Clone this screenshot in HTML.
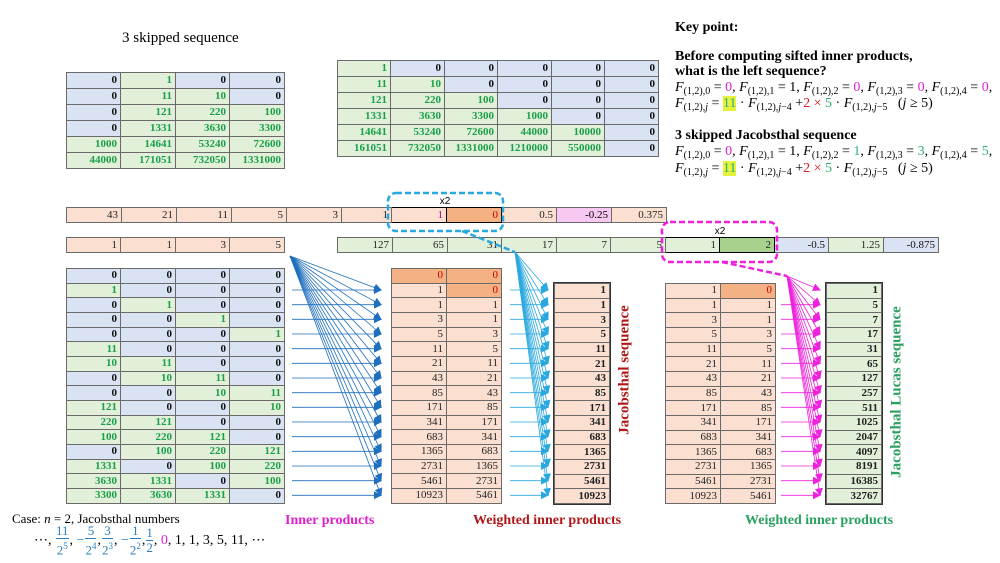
<!DOCTYPE html>
<html><head><meta charset="utf-8"><style>
body{margin:0;width:1000px;height:563px;background:#fff;position:relative;overflow:hidden;font-family:"Liberation Serif",serif;}
table{position:absolute;border-collapse:collapse;table-layout:fixed;font-family:"Liberation Serif",serif;}
td{border:1px solid #6a6a6a;padding:0 3px 0 0;text-align:right;overflow:hidden;white-space:nowrap;line-height:1;}
.t td{font-weight:bold;font-size:11px;}
.b{background:#dae3f3;color:#111}
.g{background:#e2f0d9;color:#1aa04a}
.o{background:#fbe0d2;color:#222}
.O{background:#f4b183;color:#c00000}
.p{background:#f6c8f2}
.G{background:#a9d18e}
.gg{background:#e2f0d9;color:#222}
.k{color:#b0008a}
.r{color:#c00000}
.lab{position:absolute;font-weight:bold;font-size:14px;white-space:nowrap}
.f{position:absolute;font-size:14px;white-space:nowrap;left:675px}
.f i{font-style:italic}
sub{font-size:10px;vertical-align:-3px}
.m{color:#e020d0}.gr{color:#30b070}.rd{color:#d02020}.hl{background:#e6f23c;color:#30b070}
.fr{display:inline-block;vertical-align:middle;text-align:center;color:#2a80c0;font-size:13px;line-height:14px;margin:0 1px}
.fr span{display:block}
.fr span:first-child{border-bottom:1px solid #2a80c0}
</style></head><body>

<div style="position:absolute;left:122px;top:30px;font-size:15px">3 skipped sequence</div>

<table class="t" style="left:66px;top:72px;width:218px;">
<colgroup><col width="54"><col width="55"><col width="54"><col width="55"></colgroup>
<tr style="height:16px"><td class="b">0</td><td class="g">1</td><td class="b">0</td><td class="b">0</td></tr>
<tr style="height:16px"><td class="b">0</td><td class="g">11</td><td class="g">10</td><td class="b">0</td></tr>
<tr style="height:16px"><td class="b">0</td><td class="g">121</td><td class="g">220</td><td class="g">100</td></tr>
<tr style="height:16px"><td class="b">0</td><td class="g">1331</td><td class="g">3630</td><td class="g">3300</td></tr>
<tr style="height:16px"><td class="g">1000</td><td class="g">14641</td><td class="g">53240</td><td class="g">72600</td></tr>
<tr style="height:16px"><td class="g">44000</td><td class="g">171051</td><td class="g">732050</td><td class="g">1331000</td></tr>
</table>

<table class="t" style="left:337px;top:60px;width:321px;">
<colgroup><col width="53"><col width="54"><col width="53"><col width="54"><col width="53"><col width="54"></colgroup>
<tr style="height:16px"><td class="g">1</td><td class="b">0</td><td class="b">0</td><td class="b">0</td><td class="b">0</td><td class="b">0</td></tr>
<tr style="height:16px"><td class="g">11</td><td class="g">10</td><td class="b">0</td><td class="b">0</td><td class="b">0</td><td class="b">0</td></tr>
<tr style="height:16px"><td class="g">121</td><td class="g">220</td><td class="g">100</td><td class="b">0</td><td class="b">0</td><td class="b">0</td></tr>
<tr style="height:16px"><td class="g">1331</td><td class="g">3630</td><td class="g">3300</td><td class="g">1000</td><td class="b">0</td><td class="b">0</td></tr>
<tr style="height:16px"><td class="g">14641</td><td class="g">53240</td><td class="g">72600</td><td class="g">44000</td><td class="g">10000</td><td class="b">0</td></tr>
<tr style="height:16px"><td class="g">161051</td><td class="g">732050</td><td class="g">1331000</td><td class="g">1210000</td><td class="g">550000</td><td class="b">0</td></tr>
</table>

<div class="f" style="top:20px;font-weight:bold">Key point:</div>
<div class="f" style="top:49px;font-weight:bold">Before computing sifted inner products,</div>
<div class="f" style="top:64px;font-weight:bold">what is the left sequence?</div>
<div class="f" style="top:80px"><i>F</i><sub>(1,2),0</sub> = <span class="m">0</span>, <i>F</i><sub>(1,2),1</sub> = 1, <i>F</i><sub>(1,2),2</sub> = <span class="m">0</span>, <i>F</i><sub>(1,2),3</sub> = <span class="m">0</span>, <i>F</i><sub>(1,2),4</sub> = <span class="m">0</span>,</div>
<div class="f" style="top:96px"><i>F</i><sub>(1,2),<i>j</i></sub> = <span class="hl">11</span> · <i>F</i><sub>(1,2),<i>j</i>−4</sub> +<span class="rd">2 × </span><span class="gr">5</span> · <i>F</i><sub>(1,2),<i>j</i>−5</sub> &nbsp;&nbsp;(<i>j</i> ≥ 5)</div>
<div class="f" style="top:128px;font-weight:bold">3 skipped Jacobsthal sequence</div>
<div class="f" style="top:144px"><i>F</i><sub>(1,2),0</sub> = <span class="m">0</span>, <i>F</i><sub>(1,2),1</sub> = 1, <i>F</i><sub>(1,2),2</sub> = <span class="gr">1</span>, <i>F</i><sub>(1,2),3</sub> = <span class="gr">3</span>, <i>F</i><sub>(1,2),4</sub> = <span class="gr">5</span>,</div>
<div class="f" style="top:161px"><i>F</i><sub>(1,2),<i>j</i></sub> = <span class="hl">11</span> · <i>F</i><sub>(1,2),<i>j</i>−4</sub> +<span class="rd">2 × </span><span class="gr">5</span> · <i>F</i><sub>(1,2),<i>j</i>−5</sub> &nbsp;&nbsp;(<i>j</i> ≥ 5)</div>

<table style="left:66px;top:207px;width:600px;font-size:11px">
<colgroup><col width="55"><col width="55"><col width="55"><col width="55"><col width="55"><col width="50"><col width="55"><col width="55"><col width="55"><col width="55"><col width="55"></colgroup>
<tr style="height:15px"><td class="o">43</td><td class="o">21</td><td class="o">11</td><td class="o">5</td><td class="o">3</td><td class="o">1</td><td class="o k" style="border:1.5px solid #000">1</td><td class="O" style="border:1.5px solid #000">0</td><td class="o">0.5</td><td class="p">-0.25</td><td class="o">0.375</td></tr>
</table>
<table style="left:66px;top:237px;width:218px;font-size:11px">
<colgroup><col width="54"><col width="55"><col width="54"><col width="55"></colgroup>
<tr style="height:15px"><td class="o">1</td><td class="o">1</td><td class="o">3</td><td class="o">5</td></tr>
</table>
<table style="left:337px;top:237px;width:601px;font-size:11px">
<colgroup><col width="55"><col width="55"><col width="54"><col width="55"><col width="54"><col width="55"><col width="54"><col width="55"><col width="54"><col width="55"><col width="55"></colgroup>
<tr style="height:15px"><td class="gg">127</td><td class="gg">65</td><td class="gg">31</td><td class="gg">17</td><td class="gg">7</td><td class="gg">5</td><td class="gg" style="border:1.5px solid #000">1</td><td class="G" style="border:1.5px solid #000;color:#222">2</td><td class="b">-0.5</td><td class="gg">1.25</td><td class="b">-0.875</td></tr>
</table>

<table class="t" style="left:66px;top:268px;width:218px;">
<colgroup><col width="54"><col width="55"><col width="54"><col width="55"></colgroup>
<tr style="height:14.67px"><td class="b">0</td><td class="b">0</td><td class="b">0</td><td class="b">0</td></tr>
<tr style="height:14.67px"><td class="g">1</td><td class="b">0</td><td class="b">0</td><td class="b">0</td></tr>
<tr style="height:14.67px"><td class="b">0</td><td class="g">1</td><td class="b">0</td><td class="b">0</td></tr>
<tr style="height:14.67px"><td class="b">0</td><td class="b">0</td><td class="g">1</td><td class="b">0</td></tr>
<tr style="height:14.67px"><td class="b">0</td><td class="b">0</td><td class="b">0</td><td class="g">1</td></tr>
<tr style="height:14.67px"><td class="g">11</td><td class="b">0</td><td class="b">0</td><td class="b">0</td></tr>
<tr style="height:14.67px"><td class="g">10</td><td class="g">11</td><td class="b">0</td><td class="b">0</td></tr>
<tr style="height:14.67px"><td class="b">0</td><td class="g">10</td><td class="g">11</td><td class="b">0</td></tr>
<tr style="height:14.67px"><td class="b">0</td><td class="b">0</td><td class="g">10</td><td class="g">11</td></tr>
<tr style="height:14.67px"><td class="g">121</td><td class="b">0</td><td class="b">0</td><td class="g">10</td></tr>
<tr style="height:14.67px"><td class="g">220</td><td class="g">121</td><td class="b">0</td><td class="b">0</td></tr>
<tr style="height:14.67px"><td class="g">100</td><td class="g">220</td><td class="g">121</td><td class="b">0</td></tr>
<tr style="height:14.67px"><td class="b">0</td><td class="g">100</td><td class="g">220</td><td class="g">121</td></tr>
<tr style="height:14.67px"><td class="g">1331</td><td class="b">0</td><td class="g">100</td><td class="g">220</td></tr>
<tr style="height:14.67px"><td class="g">3630</td><td class="g">1331</td><td class="b">0</td><td class="g">100</td></tr>
<tr style="height:14.67px"><td class="g">3300</td><td class="g">3630</td><td class="g">1331</td><td class="b">0</td></tr>
</table>

<table style="left:391px;top:268px;width:110px;font-size:11px">
<colgroup><col width="55"><col width="55"></colgroup>
<tr style="height:14.67px"><td class="O">0</td><td class="O">0</td></tr>
<tr style="height:14.67px"><td class="o">1</td><td class="O">0</td></tr>
<tr style="height:14.67px"><td class="o">1</td><td class="o">1</td></tr>
<tr style="height:14.67px"><td class="o">3</td><td class="o">1</td></tr>
<tr style="height:14.67px"><td class="o">5</td><td class="o">3</td></tr>
<tr style="height:14.67px"><td class="o">11</td><td class="o">5</td></tr>
<tr style="height:14.67px"><td class="o">21</td><td class="o">11</td></tr>
<tr style="height:14.67px"><td class="o">43</td><td class="o">21</td></tr>
<tr style="height:14.67px"><td class="o">85</td><td class="o">43</td></tr>
<tr style="height:14.67px"><td class="o">171</td><td class="o">85</td></tr>
<tr style="height:14.67px"><td class="o">341</td><td class="o">171</td></tr>
<tr style="height:14.67px"><td class="o">683</td><td class="o">341</td></tr>
<tr style="height:14.67px"><td class="o">1365</td><td class="o">683</td></tr>
<tr style="height:14.67px"><td class="o">2731</td><td class="o">1365</td></tr>
<tr style="height:14.67px"><td class="o">5461</td><td class="o">2731</td></tr>
<tr style="height:14.67px"><td class="o">10923</td><td class="o">5461</td></tr>
</table>
<table class="t" style="left:554px;top:283px;width:55px;outline:1.5px solid #333">
<colgroup><col width="55"></colgroup>
<tr style="height:14.67px"><td class="o">1</td></tr><tr style="height:14.67px"><td class="o">1</td></tr><tr style="height:14.67px"><td class="o">3</td></tr><tr style="height:14.67px"><td class="o">5</td></tr><tr style="height:14.67px"><td class="o">11</td></tr><tr style="height:14.67px"><td class="o">21</td></tr><tr style="height:14.67px"><td class="o">43</td></tr><tr style="height:14.67px"><td class="o">85</td></tr><tr style="height:14.67px"><td class="o">171</td></tr><tr style="height:14.67px"><td class="o">341</td></tr><tr style="height:14.67px"><td class="o">683</td></tr><tr style="height:14.67px"><td class="o">1365</td></tr><tr style="height:14.67px"><td class="o">2731</td></tr><tr style="height:14.67px"><td class="o">5461</td></tr><tr style="height:14.67px"><td class="o">10923</td></tr>
</table>

<table style="left:665px;top:283px;width:110px;font-size:11px">
<colgroup><col width="55"><col width="55"></colgroup>
<tr style="height:14.67px"><td class="o">1</td><td class="O">0</td></tr>
<tr style="height:14.67px"><td class="o">1</td><td class="o">1</td></tr>
<tr style="height:14.67px"><td class="o">3</td><td class="o">1</td></tr>
<tr style="height:14.67px"><td class="o">5</td><td class="o">3</td></tr>
<tr style="height:14.67px"><td class="o">11</td><td class="o">5</td></tr>
<tr style="height:14.67px"><td class="o">21</td><td class="o">11</td></tr>
<tr style="height:14.67px"><td class="o">43</td><td class="o">21</td></tr>
<tr style="height:14.67px"><td class="o">85</td><td class="o">43</td></tr>
<tr style="height:14.67px"><td class="o">171</td><td class="o">85</td></tr>
<tr style="height:14.67px"><td class="o">341</td><td class="o">171</td></tr>
<tr style="height:14.67px"><td class="o">683</td><td class="o">341</td></tr>
<tr style="height:14.67px"><td class="o">1365</td><td class="o">683</td></tr>
<tr style="height:14.67px"><td class="o">2731</td><td class="o">1365</td></tr>
<tr style="height:14.67px"><td class="o">5461</td><td class="o">2731</td></tr>
<tr style="height:14.67px"><td class="o">10923</td><td class="o">5461</td></tr>
</table>
<table class="t" style="left:826px;top:283px;width:55px;outline:1.5px solid #333">
<colgroup><col width="55"></colgroup>
<tr style="height:14.67px"><td class="gg">1</td></tr><tr style="height:14.67px"><td class="gg">5</td></tr><tr style="height:14.67px"><td class="gg">7</td></tr><tr style="height:14.67px"><td class="gg">17</td></tr><tr style="height:14.67px"><td class="gg">31</td></tr><tr style="height:14.67px"><td class="gg">65</td></tr><tr style="height:14.67px"><td class="gg">127</td></tr><tr style="height:14.67px"><td class="gg">257</td></tr><tr style="height:14.67px"><td class="gg">511</td></tr><tr style="height:14.67px"><td class="gg">1025</td></tr><tr style="height:14.67px"><td class="gg">2047</td></tr><tr style="height:14.67px"><td class="gg">4097</td></tr><tr style="height:14.67px"><td class="gg">8191</td></tr><tr style="height:14.67px"><td class="gg">16385</td></tr><tr style="height:14.67px"><td class="gg">32767</td></tr>
</table>

<div class="lab" style="left:625px;top:370px;color:#b01818;transform:translate(-50%,-50%) rotate(-90deg);font-size:15px">Jacobsthal sequence</div>
<div class="lab" style="left:897px;top:392px;color:#2aa060;transform:translate(-50%,-50%) rotate(-90deg);font-size:15px">Jacobsthal Lucas sequence</div>

<svg width="1000" height="563" style="position:absolute;left:0;top:0">
<defs>
<marker id="ab" markerWidth="8" markerHeight="8" refX="7" refY="4" orient="auto" markerUnits="userSpaceOnUse"><path d="M0,0 L8,4 L0,8 z" fill="#1f6fbf"/></marker>
<marker id="ac" markerWidth="8" markerHeight="8" refX="7" refY="4" orient="auto" markerUnits="userSpaceOnUse"><path d="M0,0 L8,4 L0,8 z" fill="#29a8e0"/></marker>
<marker id="am" markerWidth="8" markerHeight="8" refX="7" refY="4" orient="auto" markerUnits="userSpaceOnUse"><path d="M0,0 L8,4 L0,8 z" fill="#ee22dd"/></marker>
</defs>
<rect x="388" y="193" width="115" height="38" rx="8" fill="none" stroke="#29a8e0" stroke-width="2.5" stroke-dasharray="6,3"/>
<text x="445" y="204" font-family="Liberation Sans" font-size="10" text-anchor="middle">x2</text>
<rect x="662" y="222" width="115" height="40" rx="8" fill="none" stroke="#ee22dd" stroke-width="2.5" stroke-dasharray="6,3"/>
<text x="720" y="234" font-family="Liberation Sans" font-size="10" text-anchor="middle">x2</text>
<line x1="462" y1="231" x2="515" y2="252" stroke="#29a8e0" stroke-width="2.5" stroke-dasharray="6,3"/>
<line x1="722" y1="262" x2="787" y2="276" stroke="#ee22dd" stroke-width="2.5" stroke-dasharray="6,3"/>

<g stroke="#1f6fbf" stroke-width="0.8" marker-end="url(#ab)">
<line x1="290" y1="256" x2="381" y2="290"/><line x1="290" y1="256" x2="381" y2="304.7"/><line x1="290" y1="256" x2="381" y2="319.3"/><line x1="290" y1="256" x2="381" y2="334"/><line x1="290" y1="256" x2="381" y2="348.7"/><line x1="290" y1="256" x2="381" y2="363.3"/><line x1="290" y1="256" x2="381" y2="378"/><line x1="290" y1="256" x2="381" y2="392.7"/><line x1="290" y1="256" x2="381" y2="407.3"/><line x1="290" y1="256" x2="381" y2="422"/><line x1="290" y1="256" x2="381" y2="436.7"/><line x1="290" y1="256" x2="381" y2="451.3"/><line x1="290" y1="256" x2="381" y2="466"/><line x1="290" y1="256" x2="381" y2="480.7"/><line x1="290" y1="256" x2="381" y2="495.3"/>
<line x1="292" y1="290" x2="381" y2="290"/><line x1="292" y1="304.7" x2="381" y2="304.7"/><line x1="292" y1="319.3" x2="381" y2="319.3"/><line x1="292" y1="334" x2="381" y2="334"/><line x1="292" y1="348.7" x2="381" y2="348.7"/><line x1="292" y1="363.3" x2="381" y2="363.3"/><line x1="292" y1="378" x2="381" y2="378"/><line x1="292" y1="392.7" x2="381" y2="392.7"/><line x1="292" y1="407.3" x2="381" y2="407.3"/><line x1="292" y1="422" x2="381" y2="422"/><line x1="292" y1="436.7" x2="381" y2="436.7"/><line x1="292" y1="451.3" x2="381" y2="451.3"/><line x1="292" y1="466" x2="381" y2="466"/><line x1="292" y1="480.7" x2="381" y2="480.7"/><line x1="292" y1="495.3" x2="381" y2="495.3"/>
</g>
<g stroke="#29a8e0" stroke-width="0.8" marker-end="url(#ac)">
<line x1="515" y1="252" x2="548" y2="290"/><line x1="515" y1="252" x2="548" y2="304.7"/><line x1="515" y1="252" x2="548" y2="319.3"/><line x1="515" y1="252" x2="548" y2="334"/><line x1="515" y1="252" x2="548" y2="348.7"/><line x1="515" y1="252" x2="548" y2="363.3"/><line x1="515" y1="252" x2="548" y2="378"/><line x1="515" y1="252" x2="548" y2="392.7"/><line x1="515" y1="252" x2="548" y2="407.3"/><line x1="515" y1="252" x2="548" y2="422"/><line x1="515" y1="252" x2="548" y2="436.7"/><line x1="515" y1="252" x2="548" y2="451.3"/><line x1="515" y1="252" x2="548" y2="466"/><line x1="515" y1="252" x2="548" y2="480.7"/><line x1="515" y1="252" x2="548" y2="495.3"/>
<line x1="510" y1="290" x2="548" y2="290"/><line x1="510" y1="304.7" x2="548" y2="304.7"/><line x1="510" y1="319.3" x2="548" y2="319.3"/><line x1="510" y1="334" x2="548" y2="334"/><line x1="510" y1="348.7" x2="548" y2="348.7"/><line x1="510" y1="363.3" x2="548" y2="363.3"/><line x1="510" y1="378" x2="548" y2="378"/><line x1="510" y1="392.7" x2="548" y2="392.7"/><line x1="510" y1="407.3" x2="548" y2="407.3"/><line x1="510" y1="422" x2="548" y2="422"/><line x1="510" y1="436.7" x2="548" y2="436.7"/><line x1="510" y1="451.3" x2="548" y2="451.3"/><line x1="510" y1="466" x2="548" y2="466"/><line x1="510" y1="480.7" x2="548" y2="480.7"/><line x1="510" y1="495.3" x2="548" y2="495.3"/>
</g>
<g stroke="#ee22dd" stroke-width="0.8" marker-end="url(#am)">
<line x1="787" y1="276" x2="820" y2="290"/><line x1="787" y1="276" x2="820" y2="304.7"/><line x1="787" y1="276" x2="820" y2="319.3"/><line x1="787" y1="276" x2="820" y2="334"/><line x1="787" y1="276" x2="820" y2="348.7"/><line x1="787" y1="276" x2="820" y2="363.3"/><line x1="787" y1="276" x2="820" y2="378"/><line x1="787" y1="276" x2="820" y2="392.7"/><line x1="787" y1="276" x2="820" y2="407.3"/><line x1="787" y1="276" x2="820" y2="422"/><line x1="787" y1="276" x2="820" y2="436.7"/><line x1="787" y1="276" x2="820" y2="451.3"/><line x1="787" y1="276" x2="820" y2="466"/><line x1="787" y1="276" x2="820" y2="480.7"/><line x1="787" y1="276" x2="820" y2="495.3"/>
<line x1="781" y1="304.7" x2="820" y2="304.7"/><line x1="781" y1="319.3" x2="820" y2="319.3"/><line x1="781" y1="334" x2="820" y2="334"/><line x1="781" y1="348.7" x2="820" y2="348.7"/><line x1="781" y1="363.3" x2="820" y2="363.3"/><line x1="781" y1="378" x2="820" y2="378"/><line x1="781" y1="392.7" x2="820" y2="392.7"/><line x1="781" y1="407.3" x2="820" y2="407.3"/><line x1="781" y1="422" x2="820" y2="422"/><line x1="781" y1="436.7" x2="820" y2="436.7"/><line x1="781" y1="451.3" x2="820" y2="451.3"/><line x1="781" y1="466" x2="820" y2="466"/><line x1="781" y1="480.7" x2="820" y2="480.7"/><line x1="781" y1="495.3" x2="820" y2="495.3"/>
</g>
</svg>

<div class="lab" style="left:285px;top:513px;color:#e020d0">Inner products</div>
<div class="lab" style="left:473px;top:513px;color:#b01818">Weighted inner products</div>
<div class="lab" style="left:745px;top:513px;color:#2aa060">Weighted inner products</div>

<div style="position:absolute;left:12px;top:511px;font-size:13px">Case: <i>n</i> = 2, Jacobsthal numbers</div>
<div style="position:absolute;left:34px;top:524px;font-size:14px;white-space:nowrap">⋯, <span class="fr"><span>11</span><span>2<sup style="font-size:9px">5</sup></span></span>, <span style="color:#2a80c0">−</span><span class="fr"><span>5</span><span>2<sup style="font-size:9px">4</sup></span></span>,<span class="fr"><span>3</span><span>2<sup style="font-size:9px">3</sup></span></span>, <span style="color:#2a80c0">−</span><span class="fr"><span>1</span><span>2<sup style="font-size:9px">2</sup></span></span>,<span class="fr"><span>1</span><span>2</span></span>, <span class="m">0</span>, 1, 1, 3, 5, 11, ⋯</div>

</body></html>
